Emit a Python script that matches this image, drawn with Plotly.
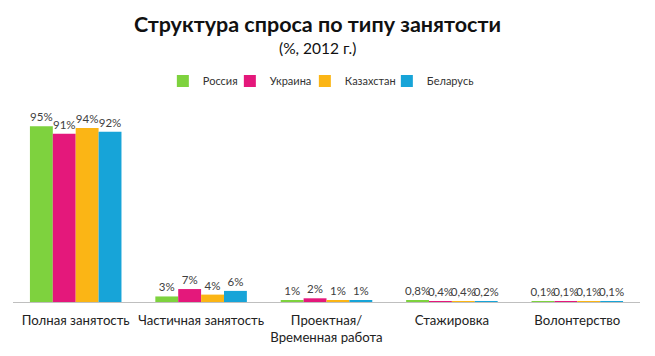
import plotly.graph_objects as go

categories = ["Полная занятость", "Частичная занятость", "Проектная/<br>Временная работа", "Стажировка", "Волонтерство"]
series_names = ["Россия", "Украина", "Казахстан", "Беларусь"]
russia = [95, 3, 1, 0.8, 0.1]
ukraine = [91, 7, 2, 0.4, 0.1]
kazakhstan = [94, 4, 1, 0.4, 0.1]
belarus = [92, 6, 1, 0.2, 0.1]
colors = ["#7ED23E", "#E4187B", "#FBB515", "#17A4D8"]
legend_entry_widths = [22, 30, 37, 46]

def fmt(v):
    s = ("%g" % v).replace(".", ",")
    return s + "%"

fig = go.Figure()
for name, vals, c, lw in zip(series_names, [russia, ukraine, kazakhstan, belarus], colors, legend_entry_widths):
    fig.add_trace(go.Bar(
        x=categories, y=vals, name=name, marker_color=c, marker_line_width=0,
        text=[fmt(v) for v in vals], textposition="outside", cliponaxis=False,
        constraintext="none", textfont=dict(size=11.5, color="#404040"),
        legendwidth=lw,
    ))

fig.update_layout(
    width=655, height=356,
    margin=dict(l=13, r=15, t=117, b=54),
    paper_bgcolor="white", plot_bgcolor="white",
    barmode="group", bargap=0.27, bargroupgap=0,
    font=dict(family="Lato, Open Sans, sans-serif", color="#222222"),
    showlegend=True,
    legend=dict(orientation="h", x=0.239, xanchor="left", y=1.195, yanchor="middle",
                font=dict(size=11, color="#333333"), itemwidth=30, traceorder="normal"),
    xaxis=dict(showline=True, linecolor="#BFBFBF", linewidth=1,
               ticks="outside", ticklen=6, tickcolor="rgba(0,0,0,0)",
               tickfont=dict(size=13.2, color="#222222"), showgrid=False),
    yaxis=dict(range=[0, 100], visible=False, showgrid=False),
    annotations=[
        dict(text="<b>Структура спроса по типу занятости</b>", xref="paper", yref="paper",
             x=0.486, y=1.503, xanchor="center", yanchor="middle", showarrow=False,
             font=dict(size=21.5, color="#111111")),
        dict(text="(%, 2012 г.)", xref="paper", yref="paper",
             x=0.486, y=1.373, xanchor="center", yanchor="middle", showarrow=False,
             font=dict(size=15.5, color="#111111")),
    ],
)
fig.write_html("out.html", config={"displayModeBar": False},
               post_script="document.body.style.margin='0px';")
